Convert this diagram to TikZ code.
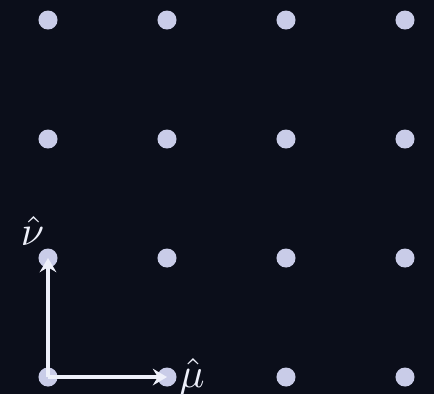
\documentclass[tikz,border=0pt]{standalone}
\usepackage{amsmath}
\usepackage{xcolor}
\usetikzlibrary{arrows.meta}
\definecolor{bgdark}{HTML}{0B0E1A}
\definecolor{sitecol}{HTML}{C9CCE8}
\definecolor{vecwhite}{HTML}{EEF0FA}

\begin{document}
\begin{tikzpicture}[
    unitvec/.style={draw=vecwhite, line width=0.8pt, -{Stealth[length=3.4pt,width=4pt,inset=1.2pt]}},
    veclabel/.style={text=vecwhite, inner sep=0pt}
  ]
    % background and frame
    \fill[bgdark] (-0.4034,-0.1429) rectangle (3.2437,3.1681);
    \useasboundingbox (-0.4034,-0.1429) rectangle (3.2437,3.1681);
    % lattice sites
    \foreach \i in {0,...,3} {
        \foreach \j in {0,...,3} {
            \coordinate (p\i\j) at (\i,\j);
            \fill[sitecol] (p\i\j) circle (0.08);
        }
    }
    % unit vectors
    \draw[unitvec] (p00) -- (p10);
    \draw[unitvec] (p00) -- (p01);
    \node[veclabel] (mu) at (1.21,0) {$\hat{\mu}$};
    \node[veclabel] (nu) at (-0.13,1.23) {$\hat{\nu}$};
\end{tikzpicture}
\end{document}
